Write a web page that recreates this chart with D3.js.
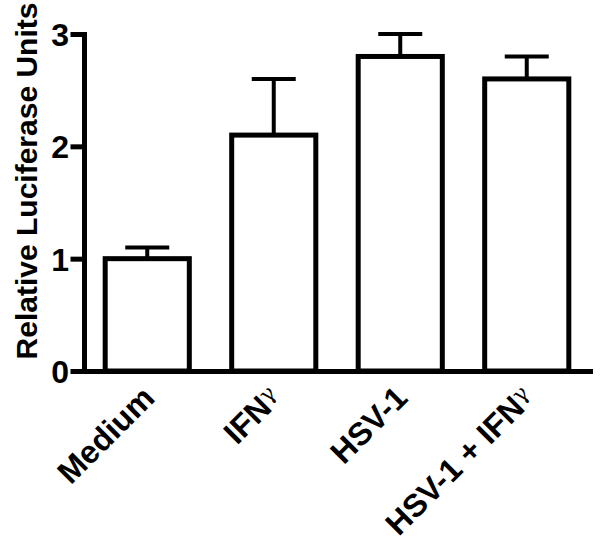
<!DOCTYPE html>
<html>

<head>
    <script src="https://d3js.org/d3.v7.min.js"></script>
    <style>
        body {
            margin: 0;
            background: #fff;
        }

        text {
            font-family: "Liberation Sans", Arial, sans-serif;
            font-weight: bold;
        }

        .bar {
            fill: #fff;
            stroke: #000;
            stroke-width: 5px;
        }

        .err {
            stroke: #000;
            stroke-width: 4px;
        }
    </style>
</head>

<body>
    <svg id="chart" width="601" height="549"></svg>

    <script>
        var categories = ["Medium", "IFN", "HSV-1", "HSV-1 + IFN"]
        var greekSuffix = [false, true, false, true]
        var means = [1.0, 2.1, 2.8, 2.6]
        var errors = [0.1, 0.5, 0.2, 0.2]
        var yTicks = [0, 1, 2, 3]

        var svg = d3.select("#chart");

        var x = d3.scaleBand()
            .domain(categories)
            .range([84, 590])
            .paddingInner(0.335)
            .paddingOuter(0.1675);

        var y = d3.scaleLinear()
            .domain([0, 3])
            .range([371, 34]);

        // bars
        svg.selectAll(".bar")
            .data(categories)
            .enter().append("rect")
            .attr("class", "bar")
            .attr("x", function (d) { return x(d); })
            .attr("y", function (d, i) { return y(means[i]); })
            .attr("width", x.bandwidth())
            .attr("height", function (d, i) { return y(0) - y(means[i]); });

        // error bars (upper only)
        var capHalf = 22;
        var errs = svg.selectAll(".errgroup")
            .data(categories)
            .enter().append("g")
            .attr("class", "errgroup");

        errs.append("line")
            .attr("class", "err")
            .attr("x1", function (d) { return x(d) + x.bandwidth() / 2; })
            .attr("x2", function (d) { return x(d) + x.bandwidth() / 2; })
            .attr("y1", function (d, i) { return y(means[i]); })
            .attr("y2", function (d, i) { return y(means[i] + errors[i]); });

        errs.append("line")
            .attr("class", "err")
            .attr("x1", function (d) { return x(d) + x.bandwidth() / 2 - capHalf; })
            .attr("x2", function (d) { return x(d) + x.bandwidth() / 2 + capHalf; })
            .attr("y1", function (d, i) { return y(means[i] + errors[i]); })
            .attr("y2", function (d, i) { return y(means[i] + errors[i]); });

        // y axis
        var yAxis = svg.append("g")
            .attr("transform", "translate(84,0)")
            .call(d3.axisLeft(y).tickValues(yTicks).tickFormat(d3.format("d"))
                .tickSize(11).tickSizeOuter(0).tickPadding(4));

        yAxis.selectAll("path, line")
            .attr("stroke", "#000")
            .attr("stroke-width", 5)
            .attr("stroke-linecap", "square");

        yAxis.selectAll("text")
            .attr("font-size", 32)
            .attr("fill", "#000")
            .attr("dy", "0.36em");

        // x axis
        var xAxis = svg.append("g")
            .attr("transform", "translate(0,371)")
            .call(d3.axisBottom(x).tickSize(0).tickSizeOuter(0));

        xAxis.select(".domain")
            .attr("stroke", "#000")
            .attr("stroke-width", 5)
            .attr("stroke-linecap", "square");

        xAxis.selectAll(".tick text").remove();

        xAxis.selectAll(".tick")
            .each(function (d, i) {
                var t = d3.select(this).append("text")
                    .attr("fill", "#000")
                    .attr("font-size", 32)
                    .attr("text-anchor", "end")
                    .attr("transform", "translate(9,29) rotate(-45)")
                    .text(d);
                if (greekSuffix[i]) {
                    t.append("tspan")
                        .attr("font-family", "DejaVu Serif, serif")
                        .attr("font-weight", "normal")
                        .attr("font-size", 22)
                        .attr("dy", -8)
                        .text("\u03b3");
                }
            });

        // y label
        svg.append("text")
            .attr("transform", "translate(37,181) rotate(-90)")
            .attr("text-anchor", "middle")
            .attr("font-size", 30)
            .attr("fill", "#000")
            .text("Relative Luciferase Units");
    </script>
</body>

</html>
